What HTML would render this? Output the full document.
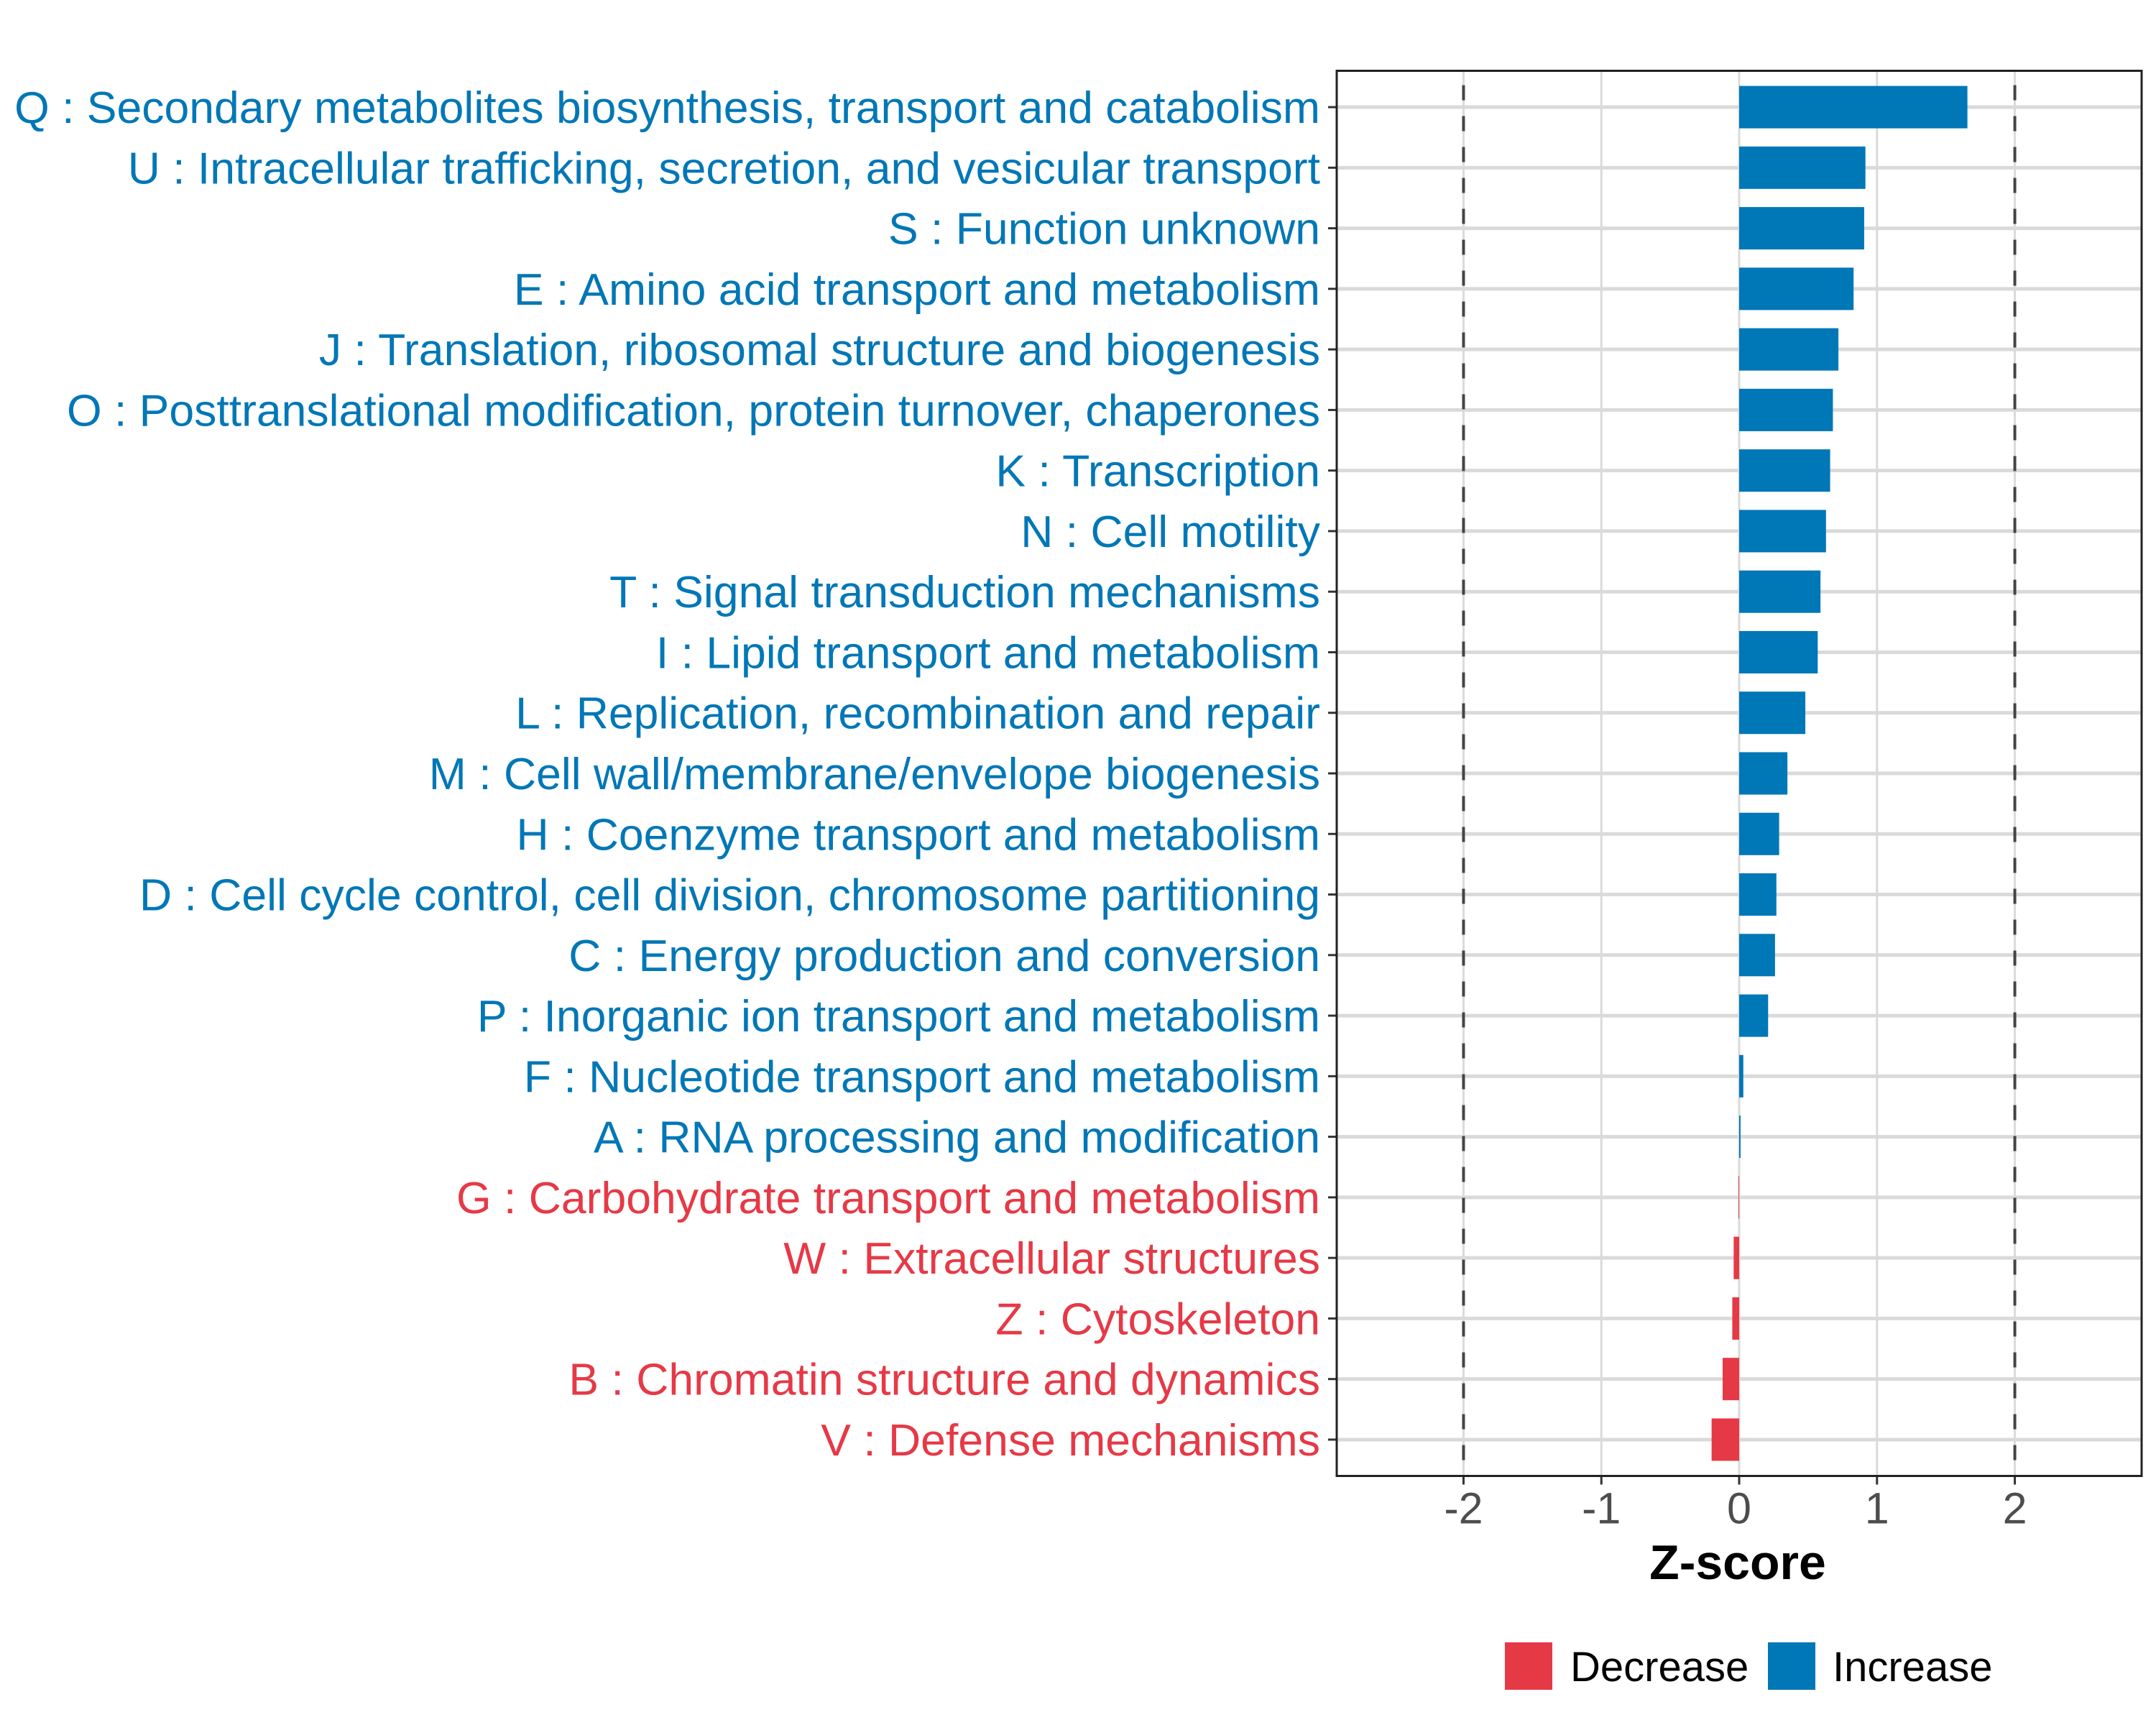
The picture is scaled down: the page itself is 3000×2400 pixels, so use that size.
<!DOCTYPE html>
<html><head><meta charset="utf-8"><style>
html,body{margin:0;padding:0;background:#fff;}
svg{display:block;font-family:"Liberation Sans",Arial,sans-serif;}
</style></head><body>
<svg id="chart" width="3000" height="2400" viewBox="0 0 3000 2400">
<rect x="0" y="0" width="3000" height="2400" fill="#fff"/>
<g id="grid"></g><g id="bars"></g><g id="ylabels"></g><g id="xaxis"></g>
<rect x="1860" y="98.5" width="1120" height="1955" fill="none" stroke="#222" stroke-width="3"/>
<text x="2418" y="2197" text-anchor="middle" font-size="68" font-weight="bold" fill="#000">Z-score</text>
<g>
<rect x="2094" y="2285" width="66" height="66" fill="#E63946"/>
<text x="2185" y="2339" font-size="58" fill="#000">Decrease</text>
<rect x="2460" y="2285" width="66" height="66" fill="#0077B6"/>
<text x="2550" y="2339" font-size="58" fill="#000">Increase</text>
</g>
</svg>
<script>
const categories = ["Q : Secondary metabolites biosynthesis, transport and catabolism","U : Intracellular trafficking, secretion, and vesicular transport","S : Function unknown","E : Amino acid transport and metabolism","J : Translation, ribosomal structure and biogenesis","O : Posttranslational modification, protein turnover, chaperones","K : Transcription","N : Cell motility","T : Signal transduction mechanisms","I : Lipid transport and metabolism","L : Replication, recombination and repair","M : Cell wall/membrane/envelope biogenesis","H : Coenzyme transport and metabolism","D : Cell cycle control, cell division, chromosome partitioning","C : Energy production and conversion","P : Inorganic ion transport and metabolism","F : Nucleotide transport and metabolism","A : RNA processing and modification","G : Carbohydrate transport and metabolism","W : Extracellular structures","Z : Cytoskeleton","B : Chromatin structure and dynamics","V : Defense mechanisms"];
const zscores = [1.656,0.916,0.907,0.83,0.72,0.68,0.66,0.63,0.59,0.57,0.48,0.35,0.29,0.27,0.26,0.21,0.03,0.01,-0.005,-0.04,-0.05,-0.12,-0.20];
const xTicks = [-2,-1,0,1,2];
const xTickLabels = ["-2","-1","0","1","2"];
const thresholds = [-2,2];

const NS="http://www.w3.org/2000/svg";
const px0=1860, px1=2980, py0=98.5, py1=2053.5;
const xmin=-2.92, xmax=2.92;
function xs(v){return px0+(v-xmin)/(xmax-xmin)*(px1-px0);}
const n=categories.length;
const step=(py1-py0)/(n-1+1.2);
function ys(i){return py0+0.6*step+i*step;}
function mk(tag,attrs,parent){const e=document.createElementNS(NS,tag);for(const k in attrs)e.setAttribute(k,attrs[k]);parent.appendChild(e);return e;}
const grid=document.getElementById('grid'),bars=document.getElementById('bars'),yl=document.getElementById('ylabels'),xa=document.getElementById('xaxis');
xTicks.forEach((t,i)=>{
 const g=mk('line',{x1:xs(t),x2:xs(t),y1:py0,y2:py1,stroke:'#DADADA','stroke-width':3},grid);
 
 
 const tk=mk('line',{x1:xs(t),x2:xs(t),y1:py1,y2:py1+12,stroke:'#333','stroke-width':3},xa);
 
 
 const tl=mk('text',{x:xs(t),y:py1+66,'text-anchor':'middle','font-size':61,fill:'#4D4D4D'},xa);
 tl.textContent=xTickLabels[i];
 
 
});
categories.forEach((c,i)=>{
 const y=ys(i);
 const gl=mk('line',{x1:px0,x2:px1,y1:y,y2:y,stroke:'#DADADA','stroke-width':5},grid);
 
 
 const v=zscores[i];
 const col=v>=0?'#0077B6':'#E63946';
 const x1=xs(Math.min(0,v)),x2=xs(Math.max(0,v));
 const b=mk('rect',{x:x1,y:y-0.35*step,width:Math.max(x2-x1,0.5),height:0.7*step,fill:col},bars);
 
 
 const tk=mk('line',{x1:px0-12,x2:px0,y1:y,y2:y,stroke:'#333','stroke-width':3},yl);
 
 
 const t=mk('text',{x:1837,y:y+22,'text-anchor':'end','font-size':62.5,fill:col},yl);
 t.textContent=c;
 
 
});
thresholds.forEach(t=>{
 const d=mk('line',{x1:xs(t),x2:xs(t),y1:py0,y2:py1,stroke:'#444','stroke-width':4,'stroke-dasharray':'21,22','stroke-dashoffset':'-20'},grid);
 
 
});
</script>
</body></html>
